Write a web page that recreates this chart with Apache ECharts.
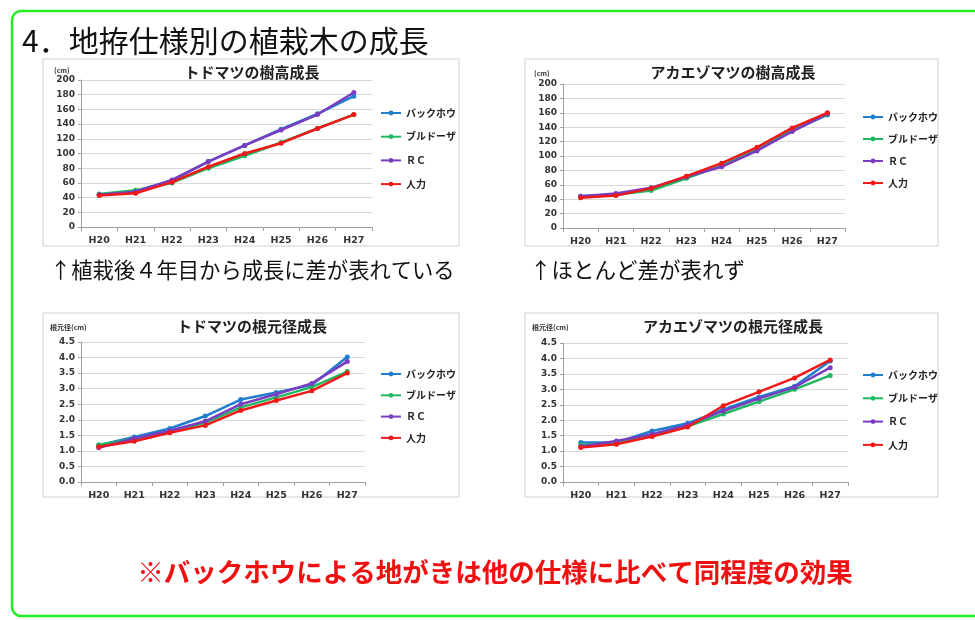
<!DOCTYPE html>
<html><head><meta charset="utf-8">
<script src="https://cdn.jsdelivr.net/npm/echarts@6/dist/echarts.min.js"></script>
<style>html,body{margin:0;padding:0;background:#fff;}#c{width:975px;height:620px;}</style>
</head><body><div id="c"></div>
<script>
const categories = ['H20','H21','H22','H23','H24','H25','H26','H27'];
const seriesNames = ['バックホウ','ブルドーザ','ＲＣ','人力'];
const colors = ['#1f7fcc','#1fb860','#7a3cc0','#f01818'];

// トドマツの樹高成長 (cm)
const todoHeightBH = [44, 49, 63, 89, 111, 133, 154, 178];
const todoHeightBD = [45, 50, 60, 80, 97, 115, 134, 153];
const todoHeightRC = [44, 48, 64, 89, 111, 132, 153, 183];
const todoHeightJR = [43, 46, 61, 82, 100, 114, 134, 153];

// アカエゾマツの樹高成長 (cm)
const akaHeightBH = [44, 47, 55, 70, 86, 108, 135, 157];
const akaHeightBD = [43, 46, 52, 69, 87, 109, 137, 158];
const akaHeightRC = [44, 48, 56, 71, 85, 107, 134, 159];
const akaHeightJR = [42, 45, 55, 72, 90, 112, 139, 160];

// トドマツの根元径成長 (cm)
const todoDiaBH = [1.18, 1.45, 1.72, 2.12, 2.65, 2.88, 3.12, 4.02];
const todoDiaBD = [1.20, 1.38, 1.62, 1.90, 2.40, 2.72, 3.05, 3.55];
const todoDiaRC = [1.10, 1.40, 1.65, 1.95, 2.50, 2.82, 3.17, 3.87];
const todoDiaJR = [1.13, 1.31, 1.58, 1.82, 2.30, 2.62, 2.93, 3.50];

// アカエゾマツの根元径成長 (cm)
const akaDiaBH = [1.28, 1.28, 1.65, 1.90, 2.35, 2.75, 3.10, 3.92];
const akaDiaBD = [1.20, 1.27, 1.50, 1.80, 2.20, 2.60, 3.00, 3.45];
const akaDiaRC = [1.15, 1.33, 1.55, 1.85, 2.30, 2.70, 3.07, 3.70];
const akaDiaJR = [1.12, 1.22, 1.47, 1.78, 2.47, 2.92, 3.37, 3.95];

const chartTitles = ['トドマツの樹高成長','アカエゾマツの樹高成長','トドマツの根元径成長','アカエゾマツの根元径成長'];
const heightTicks = {min:0, max:200, interval:20};
const diaTicks = {min:0, max:4.5, interval:0.5};

const FONT = '"Noto Sans CJK JP", "Noto Sans", sans-serif';
const NUMFONT = '"DejaVu Sans", sans-serif';
const chartData = [
  [todoHeightBH, todoHeightBD, todoHeightRC, todoHeightJR],
  [akaHeightBH, akaHeightBD, akaHeightRC, akaHeightJR],
  [todoDiaBH, todoDiaBD, todoDiaRC, todoDiaJR],
  [akaDiaBH, akaDiaBD, akaDiaRC, akaDiaJR]
];

const grids = [
  {left:81, top:80, width:291, height:147},
  {left:563, top:84, width:282, height:144},
  {left:81, top:342, width:284, height:140},
  {left:563, top:343, width:285, height:139}
];
const legendPos = [
  {left:375, top:103, gap:13.7},
  {left:857, top:107, gap:12},
  {left:375, top:364, gap:11.3},
  {left:857, top:365, gap:13.3}
];
const frames = [
  {x:43, y:59, w:416, h:187},
  {x:525, y:59, w:413, h:187},
  {x:43, y:313, w:416, h:184},
  {x:525, y:313, w:413, h:184}
];
const titlePos = [[252,72],[733,72],[252,326],[733,326]];
const yNames = [['(cm)',54,70],['(cm)',534,73],['根元径(cm)',50,327],['根元径(cm)',532,327]];

const xAxes = [], yAxes = [], series = [], legends = [], graphics = [];

grids.forEach((g, i) => {
  xAxes.push({
    type:'category', gridIndex:i, data:categories, boundaryGap:true,
    axisLine:{lineStyle:{color:'#a0a0a0'}},
    axisTick:{show:true, alignWithLabel:false, length:4, lineStyle:{color:'#a0a0a0'}},
    axisLabel:{fontFamily:NUMFONT, fontSize:9.5, fontWeight:'bold', color:'#333', margin:9}
  });
  const t = i < 2 ? heightTicks : diaTicks;
  yAxes.push({
    type:'value', gridIndex:i, min:t.min, max:t.max, interval:t.interval,
    axisLine:{show:true, lineStyle:{color:'#a0a0a0'}},
    axisTick:{show:true, length:3, lineStyle:{color:'#a0a0a0'}},
    splitLine:{show:true, lineStyle:{color:'#d9d9d9'}},
    axisLabel:{fontFamily:NUMFONT, fontSize:9, fontWeight:'bold', color:'#333', margin:6,
      formatter: i < 2 ? (v => String(v)) : (v => v.toFixed(1))}
  });
  chartData[i].forEach((arr, k) => {
    series.push({
      type:'line', name:seriesNames[k], xAxisIndex:i, yAxisIndex:i, data:arr,
      color:colors[k], symbol:'circle', symbolSize:5,
      lineStyle:{width:2.5, color:colors[k]}, itemStyle:{color:colors[k]},
      z: 2 + k
    });
  });
  legends.push({
    orient:'vertical', left:legendPos[i].left, top:legendPos[i].top,
    data:seriesNames, itemWidth:20, itemHeight:6, itemGap:legendPos[i].gap,
    textStyle:{fontFamily:FONT, fontSize:10, fontWeight:'bold', color:'#222'},
    selectedMode:false
  });
  const f = frames[i];
  graphics.push({type:'rect', shape:{x:f.x, y:f.y, width:f.w, height:f.h},
    style:{fill:'#fff', stroke:'#cfcfcf', lineWidth:1}, z:-10, silent:true});
  graphics.push({type:'text', x:titlePos[i][0], y:titlePos[i][1],
    style:{text:chartTitles[i], fontFamily:FONT, fontSize:15, fontWeight:'bold', fill:'#222',
      textAlign:'center', textVerticalAlign:'middle'}});
  graphics.push({type:'text', x:yNames[i][1], y:yNames[i][2],
    style:{text:yNames[i][0], fontFamily:FONT, fontSize:7, fontWeight:'bold', fill:'#333',
      textAlign:'left', textVerticalAlign:'middle'}});
});

// outer green frame and texts
graphics.unshift({type:'rect', shape:{x:12, y:11, width:1000, height:605, r:9},
  style:{fill:'none', stroke:'#22ee22', lineWidth:2.5}, z:-20, silent:true});
graphics.push({type:'text', x:22, y:41,
  style:{text:'4．地拵仕様別の植栽木の成長', fontFamily:FONT, fontSize:30, fill:'#111',
    textAlign:'left', textVerticalAlign:'middle'}});
graphics.push({type:'text', x:50, y:270,
  style:{text:'↑植栽後４年目から成長に差が表れている', fontFamily:FONT, fontSize:21.3, fill:'#111',
    textAlign:'left', textVerticalAlign:'middle'}});
graphics.push({type:'text', x:530, y:270,
  style:{text:'↑ほとんど差が表れず', fontFamily:FONT, fontSize:21.5, fill:'#111',
    textAlign:'left', textVerticalAlign:'middle'}});
graphics.push({type:'text', x:495, y:572,
  style:{text:'※バックホウによる地がきは他の仕様に比べて同程度の効果', fontFamily:FONT, fontSize:26.5,
    fontWeight:'bold', fill:'#f01010', textAlign:'center', textVerticalAlign:'middle'}});

const chart = echarts.init(document.getElementById('c'), null, {renderer:'canvas'});
chart.setOption({
  animation:false,
  backgroundColor:'#fff',
  grid:grids.map(g => Object.assign({containLabel:false}, g)),
  xAxis:xAxes, yAxis:yAxes, series:series, legend:legends, graphic:graphics
});
</script></body></html>
